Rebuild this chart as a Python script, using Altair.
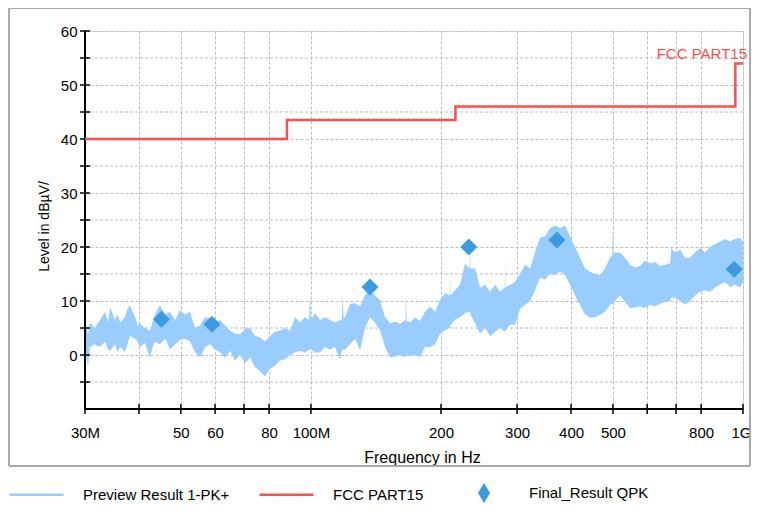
import altair as alt
import pandas as pd

FONT = "Liberation Sans"

# ---- data (frequencies in MHz, levels in dBuV) ----
series_names = ["Preview Result 1-PK+", "FCC PART15", "Final_Result QPK"]
series_colors = ["#99ccff", "#ff4d4d", "#3c9be0"]

pk_freq = [
    30.0, 30.5, 30.8, 31.6, 32.5, 33.4, 33.9, 34.3, 35.2, 35.7,
    36.2, 37.1, 37.6, 38.1, 39.2, 39.7, 40.2, 41.3, 42.4, 43.0,
    43.6, 44.7, 46.0, 47.2, 48.5, 49.8, 51.1, 52.5, 53.9, 55.4,
    56.9, 58.4, 60.0, 61.6, 63.3, 65.0, 66.7, 68.5, 70.4, 72.3,
    74.2, 76.2, 78.3, 80.4, 82.6, 84.8, 87.1, 89.5, 91.9, 94.4,
    96.9, 99.0, 99.5, 100.0, 102.2, 105.0, 107.8, 110.7, 113.7, 116.8,
    118.0, 118.5, 119.0, 120.0, 123.2, 126.5, 129.9, 133.4, 137.0, 140.7,
    144.5, 148.4, 152.5, 156.6, 160.8, 165.5, 166.0, 166.5, 169.6, 174.2,
    178.9, 183.7, 188.7, 193.8, 199.0, 204.4, 209.5, 209.9, 210.3, 215.6,
    221.4, 227.4, 233.0, 233.5, 234.0, 239.8, 246.3, 252.9, 259.8, 266.8,
    274.0, 281.0, 281.4, 282.0, 289.0, 296.8, 304.8, 313.0, 321.5, 330.2,
    339.1, 348.2, 357.6, 367.3, 377.2, 387.4, 397.9, 408.6, 419.6, 431.0,
    442.6, 454.6, 466.8, 479.4, 492.4, 498.5, 500.0, 501.5, 505.7, 519.3,
    533.3, 547.7, 562.5, 577.7, 593.3, 609.3, 625.8, 642.7, 660.0, 677.9,
    683.0, 696.2, 715.0, 734.3, 754.1, 774.4, 795.4, 816.8, 838.9, 861.5,
    884.8, 908.7, 933.2, 958.4, 984.3, 1000.0,
]
pk_low = [
    1.0, -2.0, 1.5, 2.0, 1.5, 2.5, 1.0, 0.8, 2.0, 0.5,
    1.5, 0.5, 2.0, 3.5, 3.0, 2.5, 1.5, 2.2, -0.5, 1.5,
    2.5, 2.0, 3.0, 1.0, 2.0, 2.8, 3.0, 2.5, 0.5, -0.4,
    1.5, 2.0, 1.0, 0.5, -0.5, 0.8, -1.0, 0.0, -1.5, -0.5,
    -2.2, -3.0, -4.0, -2.5, -2.0, -1.0, -0.8, 0.0, 0.5, 0.8,
    0.4, 1.0, 1.0, 1.0, 0.4, 0.5, 1.5, 1.0, 1.5, -0.9,
    1.0, 1.0, 1.0, 1.0, 2.0, 3.0, 0.9, 5.0, 7.0, 6.0,
    4.6, 1.5, -0.4, -0.3, 0.0, -0.4, 0.5, 0.0, -0.2, 0.0,
    -0.4, 1.5, 1.5, 2.0, 4.0, 4.6, 5.0, 5.0, 5.5, 6.5,
    7.0, 7.8, 8.0, 8.0, 7.5, 5.9, 4.0, 5.0, 3.5, 4.3,
    5.0, 4.3, 4.5, 4.5, 5.6, 5.6, 8.5, 9.3, 10.0, 12.0,
    14.3, 14.0, 15.0, 14.8, 15.5, 14.8, 13.0, 11.0, 9.3, 7.5,
    6.9, 7.0, 7.4, 8.0, 9.3, 9.5, 9.5, 9.5, 10.0, 11.0,
    9.8, 8.7, 8.8, 9.0, 8.7, 9.3, 9.0, 9.5, 9.8, 10.0,
    10.6, 10.6, 10.0, 9.3, 10.0, 11.0, 11.7, 12.0, 11.7, 12.5,
    13.0, 13.5, 12.6, 13.0, 12.5, 13.5,
]
pk_high = [
    5.5, 4.0, 6.0, 5.0, 6.5, 8.0, 6.0, 8.8, 6.5, 7.5,
    6.0, 7.0, 8.5, 9.2, 7.0, 5.5, 5.8, 5.0, 4.5, 6.0,
    7.5, 9.2, 7.5, 8.0, 6.5, 8.3, 7.5, 8.0, 5.0, 5.5,
    7.0, 6.8, 6.0, 6.5, 5.5, 4.5, 4.0, 3.8, 4.8, 5.0,
    3.5, 3.3, 2.5, 3.5, 4.3, 4.5, 5.0, 4.5, 7.0, 6.0,
    7.0, 6.5, 11.7, 6.5, 7.8, 6.5, 7.0, 6.5, 6.0, 6.5,
    6.5, 11.5, 6.8, 7.0, 9.5, 9.6, 9.0, 11.0, 12.6, 11.0,
    10.2, 7.0, 5.9, 6.2, 5.8, 6.5, 11.5, 6.3, 6.0, 7.0,
    6.3, 8.0, 9.0, 8.0, 10.2, 11.5, 11.0, 15.0, 11.0, 12.0,
    13.0, 17.0, 16.0, 19.5, 16.0, 16.0, 12.5, 13.0, 11.7, 13.0,
    11.7, 12.5, 18.0, 12.5, 13.0, 13.5, 15.0, 16.7, 16.0, 19.0,
    21.7, 22.0, 23.5, 24.0, 23.5, 24.0, 22.0, 20.0, 18.0, 16.0,
    15.4, 15.0, 14.8, 16.0, 18.0, 18.5, 24.4, 18.5, 19.0, 19.0,
    18.0, 16.7, 16.2, 16.5, 17.5, 17.0, 17.2, 16.5, 16.7, 17.0,
    19.8, 19.0, 19.5, 18.0, 18.0, 19.0, 19.8, 19.0, 20.0, 20.5,
    21.0, 21.5, 21.0, 21.5, 21.7, 21.0,
]

limit_freq = [30, 88, 216, 960, 1000]
limit_level = [40, 43.5, 46, 54, 54]
limit_label = "FCC PART15"

qpk_freq = [45.1, 59.0, 137.0, 232.0, 371.0, 954.0]
qpk_level = [6.6, 5.7, 12.6, 20.0, 21.3, 15.9]

x_ticks = [30, 40, 50, 60, 70, 80, 100, 200, 300, 400, 500, 600, 700, 800, 1000]
x_tick_labels = ["30M", "", "50", "60", "", "80", "100M", "200", "300", "400", "500", "", "", "800", "1G"]
y_major = [0, 10, 20, 30, 40, 50, 60]
y_minor = [-5, 5, 15, 25, 35, 45, 55]

# ---- tables ----
pk_df = pd.DataFrame({"f": pk_freq, "lo": pk_low, "hi": pk_high, "s": series_names[0]})
lim_df = pd.DataFrame({"f": limit_freq, "v": limit_level, "s": series_names[1]})
qpk_df = pd.DataFrame({"f": qpk_freq, "v": qpk_level, "s": series_names[2]})
lbl_df = pd.DataFrame({"f": [limit_freq[-1]], "v": [limit_level[-1]], "t": [limit_label]})
minor_df = pd.DataFrame({"v": y_minor})
ytick_df = pd.DataFrame({"v": y_major + y_minor})
xtick_df = pd.DataFrame({"f": x_ticks})

x_label_map = "{" + ",".join(f"'{v}':'{l}'" for v, l in zip(x_ticks, x_tick_labels)) + "}"

W, H = 658, 378
GRID = "#bdbdbd"

xscale = alt.Scale(type="log", domain=[30, 1000], nice=False)
yscale = alt.Scale(domain=[-10, 60], nice=False)

axis_kw = dict(grid=True, gridColor=GRID, gridDash=[3, 2], gridWidth=1,
               domain=False, ticks=False, tickSize=0,
               labelFont=FONT, labelFontSize=15, labelColor="#000",
               labelOverlap=False, labelFlush=False,
               titleFont=FONT, titleColor="#000", titleFontWeight="normal")

x_axis = alt.Axis(values=x_ticks, labelExpr=f"{x_label_map}[datum.value + '']",
                  labelPadding=16,
                  labelOffset={"condition": {"test": "datum.value == 1000", "value": -2}, "value": 0},
                  title="Frequency in Hz", titleFontSize=16, titleBaseline="middle",
                  titleX=337, titleY=48, **axis_kw)
y_axis = alt.Axis(values=y_major, format="d",
                  labelPadding=8, title="Level in dBµV/", titleFontSize=14,
                  titleBaseline="middle", titleX=-41, titleY=195, titleAngle=-90, **axis_kw)

line_legend = alt.Legend(
    orient="none", legendX=-77, legendY=435, direction="horizontal", title=None,
    symbolSize=2916, symbolType="stroke", symbolStrokeWidth=2.5, symbolOpacity=1,
    labelFont=FONT, labelFontSize=15, labelColor="#000", labelOffset=18,
    columnPadding=24,
)
qpk_legend = alt.Legend(
    orient="none", legendX=389, legendY=452, direction="horizontal", title=None,
    symbolSize=400, symbolType="M-0.6,0L0,-1L0.6,0L0,1Z", symbolOpacity=1,
    symbolFillColor=series_colors[2], symbolStrokeWidth=0,
    labelFont=FONT, labelFontSize=15, labelColor="#000", labelOffset=35,
)

color_enc = alt.Color("s:N", scale=alt.Scale(domain=series_names[:2], range=series_colors[:2]),
                      legend=line_legend)
fill_enc = alt.Fill("s:N", scale=alt.Scale(domain=series_names[2:], range=series_colors[2:]),
                    legend=qpk_legend)

frame = alt.Chart(lim_df).mark_rect(fill="transparent", stroke="#a8a8a8", strokeWidth=1).encode(
    x=alt.value(-76), x2=alt.value(665), y=alt.value(-22.5), y2=alt.value(435)
)

# minor horizontal gridlines
minor_grid = alt.Chart(minor_df).mark_rule(color=GRID, strokeDash=[3, 2], strokeWidth=1).encode(
    x=alt.datum(30), x2=alt.datum(1000), y="v:Q"
)
# ticks crossing the axis lines
y_tick_marks = alt.Chart(ytick_df).mark_rule(color="#000", strokeWidth=1.5).encode(
    x=alt.value(-5), x2=alt.value(5), y="v:Q"
)
x_tick_marks = alt.Chart(xtick_df).mark_rule(color="#000", strokeWidth=1.5).encode(
    x="f:Q", y=alt.value(H - 5), y2=alt.value(H + 5)
)

pk = alt.Chart(pk_df).mark_area(opacity=1).encode(
    x=alt.X("f:Q", scale=xscale, axis=x_axis),
    y=alt.Y("lo:Q", scale=yscale, axis=y_axis),
    y2="hi:Q",
    color=color_enc,
)

y_dom = alt.Chart(lim_df).mark_rule(color="#000", strokeWidth=1.5).encode(
    x=alt.datum(30), y=alt.datum(-10), y2=alt.datum(60)
)
x_dom = alt.Chart(lim_df).mark_rule(color="#000", strokeWidth=1.5).encode(
    x=alt.datum(30), x2=alt.datum(1000), y=alt.datum(-10)
)

lim = alt.Chart(lim_df).mark_line(interpolate="step-after", strokeWidth=2.5).encode(
    x="f:Q", y="v:Q", color=color_enc
)

qpk = alt.Chart(qpk_df).mark_point(shape="diamond", filled=True, size=290, opacity=1).encode(
    x="f:Q", y="v:Q", fill=fill_enc
)

lbl = alt.Chart(lbl_df).mark_text(align="right", baseline="alphabetic", dx=4, dy=-4,
                                  color=series_colors[1], font=FONT, fontSize=15).encode(
    x="f:Q", y="v:Q", text="t:N"
)

chart = alt.layer(frame, minor_grid, pk, y_tick_marks, x_tick_marks, y_dom, x_dom,
                  lim, qpk, lbl).properties(
    width=W, height=H,
    autosize=alt.AutoSizeParams(type="none"),
    padding={"left": 77, "top": 23, "right": 8, "bottom": 94},
).configure_view(stroke=None).configure(background="white")

chart.save("out.html", embed_options={"renderer": "svg", "actions": False})
